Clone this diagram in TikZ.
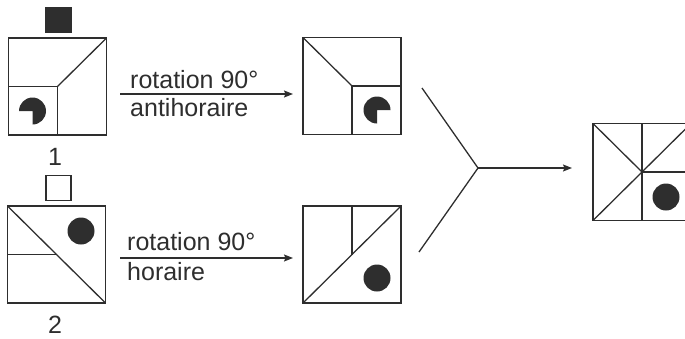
\documentclass[tikz,border=0pt]{standalone}
\usepackage{fontspec}
\setmainfont{Liberation Sans}
\usetikzlibrary{arrows.meta}
\definecolor{ink}{HTML}{2E2E2E}
\begin{document}
\begin{tikzpicture}[x=1pt,y=-1pt,
  box/.style={draw=ink, line width=1.3pt, minimum width=98pt, minimum height=97pt, inner sep=0pt, outer sep=0pt},
  tag/.style={draw=ink, line width=1.3pt, minimum width=25pt, minimum height=25pt, inner sep=0pt},
  seg/.style={draw=ink, line width=1.3pt},
  lbl/.style={font=\fontsize{25}{30}\selectfont, text=ink, inner sep=0pt, anchor=base west},
  num/.style={font=\fontsize{25}{30}\selectfont, text=ink, inner sep=0pt, anchor=base},
  arr/.style={draw=ink, line width=1.3pt, -{Stealth[length=9pt,width=7pt,inset=1.5pt]}}]
\useasboundingbox (0,0) rectangle (685,338);
\clip (0,0) rectangle (685,338);

% --- figure 1
\node[tag, fill=ink] (t1) at (58.5,20) {};
\node[box] (b1) at (57.5,86.5) {};
\draw[seg] (b1.west |- b1.center) -- (b1.center) -- (b1.center |- b1.south);
\draw[seg] (b1.center) -- (b1.north east);
\fill[ink] (32.5,111) -- ++(180:13.5) arc[start angle=180, end angle=450, radius=13.5] -- cycle;
\node[num] (n1) at (55,165) {1};

% --- figure 2
\node[tag, fill=white] (t2) at (58.5,188) {};
\node[box] (b2) at (56.5,254.5) {};
\draw[seg] (b2.north west) -- (b2.south east);
\draw[seg] (b2.west) -- (b2.center);
\fill[ink] (81,231) circle[radius=13.5];
\node[num] (n2) at (55,333) {2};

% --- figure 3
\node[box] (b3) at (352,86) {};
\draw[seg] (b3.north west) -- (b3.center);
\draw[seg] (b3.east) -- (b3.center) -- (b3.south);
\fill[ink] (377,110) -- ++(90:13.5) arc[start angle=90, end angle=360, radius=13.5] -- cycle;

% --- figure 4
\node[box] (b4) at (352,254.5) {};
\draw[seg] (b4.south west) -- (b4.north east);
\draw[seg] (b4.north) -- (b4.center);
\fill[ink] (377,278) circle[radius=13.5];

% --- figure 5
\node[box] (b5) at (642,172) {};
\draw[seg] (b5.north) -- (b5.south);
\draw[seg] (b5.center) -- (b5.east);
\draw[seg] (b5.north west) -- (b5.center);
\draw[seg] (b5.south west) -- (b5.north east);
\fill[ink] (666,197) circle[radius=13.5];

% --- arrows with labels
\coordinate (a1s) at (120,94);
\coordinate (a1e) at (293,94);
\draw[arr] (a1s) -- (a1e);
\node[lbl] (r1) at (130,88) {rotation 90°};
\node[lbl] (h1) at (130,116) {antihoraire};

\coordinate (a2s) at (120,258);
\coordinate (a2e) at (293,258);
\draw[arr] (a2s) -- (a2e);
\node[lbl] (r2) at (127,250) {rotation 90°};
\node[lbl] (h2) at (127,280) {horaire};

% --- merging connector
\coordinate (ytop) at (422,88);
\coordinate (ybot) at (419,252);
\coordinate (yj) at (478,168);
\coordinate (yend) at (572,168);
\draw[seg] (ytop) -- (yj) -- (ybot);
\draw[arr] (yj) -- (yend);
\end{tikzpicture}
\end{document}
